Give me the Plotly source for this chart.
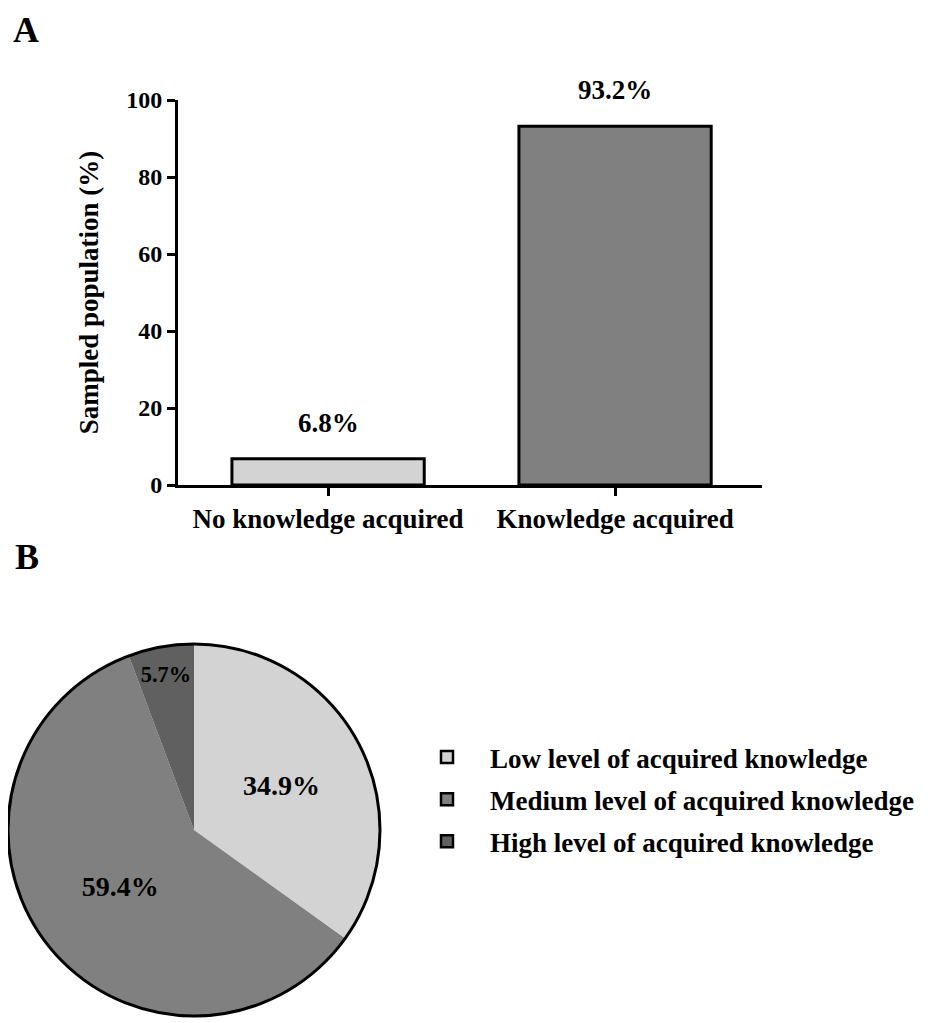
import plotly.graph_objects as go

# Panel A data
bar_categories = ["No knowledge acquired", "Knowledge acquired"]
bar_values = [6.8, 93.2]
bar_labels = ["6.8%", "93.2%"]
bar_colors = ["#d3d3d3", "#808080"]
y_ticks = [0, 20, 40, 60, 80, 100]

# Panel B data
pie_labels = ["Low level of acquired knowledge",
              "Medium level of acquired knowledge",
              "High level of acquired knowledge"]
pie_values = [34.9, 59.4, 5.7]
pie_colors = ["#d3d3d3", "#808080", "#606060"]

FONT = "Liberation Serif"
W, H = 935, 1023
OFF = 8  # page body margin


def px(p):
    return (p - OFF) / W


def py(p):
    return 1 - (p - OFF) / H


def f(size):
    return dict(family=FONT, size=size, color="black", weight="bold")


fig = go.Figure()

fig.add_trace(go.Bar(
    x=bar_categories, y=bar_values, width=0.67,
    marker=dict(color=bar_colors, line=dict(color="black", width=3)),
    showlegend=False, hoverinfo="skip",
))

for xv, yv, lab in zip(bar_categories, bar_values, bar_labels):
    fig.add_annotation(x=xv, y=yv, text=lab, showarrow=False, xref="x", yref="y",
                       yshift=36, font=f(27))

# legend entries (dummy bars on hidden axes)
for lab, col in zip(pie_labels, pie_colors):
    fig.add_trace(go.Bar(x=[None], y=[None], name=lab, xaxis="x2", yaxis="y2",
                         legendgroup=lab,
                         marker=dict(color=col, line=dict(color="black", width=2.5))))

pie_dom = dict(x=[0, 372 / W], y=[py(1020), py(640)])
fig.add_trace(go.Pie(
    labels=pie_labels, values=pie_values, sort=False, direction="clockwise",
    marker=dict(colors=pie_colors, line=dict(width=0)),
    texttemplate="%{value:.1f}%", textposition="inside",
    insidetextorientation="horizontal",
    textfont=f(28), domain=pie_dom,
    showlegend=False, hoverinfo="skip",
))
fig.add_trace(go.Pie(
    labels=["total"], values=[sum(pie_values)], sort=False,
    marker=dict(colors=["rgba(0,0,0,0)"], line=dict(color="black", width=3)),
    textinfo="none", domain=pie_dom,
    showlegend=False, hoverinfo="skip",
))

fig.add_annotation(x=px(11), y=1.0, xref="paper", yref="paper", text="A",
                   showarrow=False, xanchor="left", yanchor="top", font=f(36))
fig.add_annotation(x=px(13), y=py(535), xref="paper", yref="paper", text="B",
                   showarrow=False, xanchor="left", yanchor="top", font=f(36))

axis_common = dict(showline=True, linecolor="black", linewidth=3,
                   ticks="outside", ticklen=8, tickwidth=3, tickcolor="black",
                   showgrid=False, zeroline=False, fixedrange=True, automargin=False)

fig.update_layout(
    template="none",
    width=W, height=H, margin=dict(l=0, r=0, t=0, b=0, pad=0),
    paper_bgcolor="white", plot_bgcolor="white",
    font=f(20),
    barmode="overlay",
    xaxis=dict(domain=[px(178), px(762)], range=[-0.523, 1.512],
               tickfont=f(27), **axis_common),
    yaxis=dict(domain=[py(485), py(100)], range=[0, 100], tickvals=y_ticks,
               tickfont=f(24),
               title=dict(text="Sampled population (%)", standoff=20, font=f(27)),
               **axis_common),
    xaxis2=dict(visible=False, domain=[0.99, 1.0], anchor="y2"),
    yaxis2=dict(visible=False, domain=[0.0, 0.01], anchor="x2"),
    legend=dict(x=px(404), y=py(733), xanchor="left", yanchor="top",
                font=f(27), tracegroupgap=4, itemwidth=76,
                bgcolor="rgba(0,0,0,0)", borderwidth=0),
)

fig.write_html("out.html")
